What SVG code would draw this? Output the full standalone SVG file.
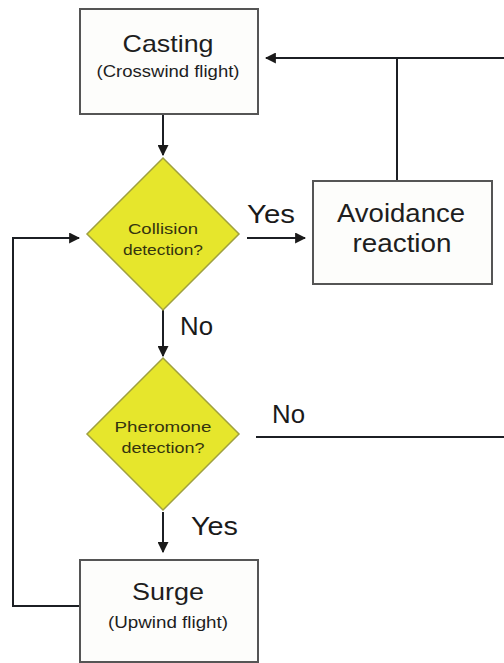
<svg xmlns="http://www.w3.org/2000/svg" width="504" height="663" viewBox="0 0 504 663">
<style>
.box{fill:#fdfdfb;stroke:#555;stroke-width:2}
.dia{fill:#e6e62c;stroke:#9fa040;stroke-width:1.5}
.ln{fill:none;stroke:#1c1f24;stroke-width:2}
.t{font-family:"Liberation Sans",Arial,sans-serif;fill:#1e1e1e;text-anchor:middle}
.lbl{font-family:"Liberation Sans",Arial,sans-serif;fill:#1a1a1a;font-size:25px}
.dt{font-family:"Liberation Sans",Arial,sans-serif;fill:#34340f;font-size:15.5px;text-anchor:middle}
</style>
<defs>
<marker id="ah" viewBox="0 0 10 10" refX="9" refY="5" markerWidth="5.5" markerHeight="5.5" orient="auto" markerUnits="strokeWidth">
<path d="M0,0 L10,5 L0,10 z" fill="#1a1a1a"/>
</marker>
</defs>
<rect width="504" height="663" fill="#ffffff"/>
<g id="connectors">
<path class="ln" d="M504,58 H266" marker-end="url(#ah)"/>
<path class="ln" d="M397,58 V181"/>
<path class="ln" d="M163,114 V155" marker-end="url(#ah)"/>
<path class="ln" d="M247,238 H305" marker-end="url(#ah)"/>
<path class="ln" d="M80,606 H13 V238 H79" marker-end="url(#ah)"/>
<path class="ln" d="M163,310 V356" marker-end="url(#ah)"/>
<path class="ln" d="M256,437 H504"/>
<path class="ln" d="M163,512 V552" marker-end="url(#ah)"/>
</g>
<g id="casting">
<rect class="box" x="80" y="9" width="178" height="105"/>
<text class="t" x="168" y="52" font-size="24" textLength="91" lengthAdjust="spacingAndGlyphs">Casting</text>
<text class="t" x="168" y="77" font-size="16" textLength="143" lengthAdjust="spacingAndGlyphs">(Crosswind flight)</text>
</g>
<g id="collision">
<polygon class="dia" points="163,158 239,234 163,310 87,234"/>
<text class="dt" x="163" y="234" textLength="70" lengthAdjust="spacingAndGlyphs">Collision</text>
<text class="dt" x="163" y="255" textLength="80" lengthAdjust="spacingAndGlyphs">detection?</text>
</g>
<g id="avoidance">
<rect class="box" x="313" y="181" width="179" height="103"/>
<text class="t" x="401" y="222" font-size="25" textLength="128" lengthAdjust="spacingAndGlyphs">Avoidance</text>
<text class="t" x="402" y="252" font-size="25" textLength="99" lengthAdjust="spacingAndGlyphs">reaction</text>
</g>
<g id="pheromone">
<polygon class="dia" points="163,358 239,434 163,510 87,434"/>
<text class="dt" x="163" y="432" textLength="97" lengthAdjust="spacingAndGlyphs">Pheromone</text>
<text class="dt" x="163" y="453" textLength="83" lengthAdjust="spacingAndGlyphs">detection?</text>
</g>
<g id="surge">
<rect class="box" x="80" y="560" width="178" height="102"/>
<text class="t" x="168" y="600" font-size="24" textLength="72" lengthAdjust="spacingAndGlyphs">Surge</text>
<text class="t" x="168" y="628" font-size="16" textLength="120" lengthAdjust="spacingAndGlyphs">(Upwind flight)</text>
</g>
<g id="labels">
<text class="lbl" x="247" y="223" textLength="48" lengthAdjust="spacingAndGlyphs">Yes</text>
<text class="lbl" x="180" y="335" textLength="33" lengthAdjust="spacingAndGlyphs">No</text>
<text class="lbl" x="272" y="423" textLength="33" lengthAdjust="spacingAndGlyphs">No</text>
<text class="lbl" x="191" y="535" textLength="47" lengthAdjust="spacingAndGlyphs">Yes</text>
</g>
</svg>
